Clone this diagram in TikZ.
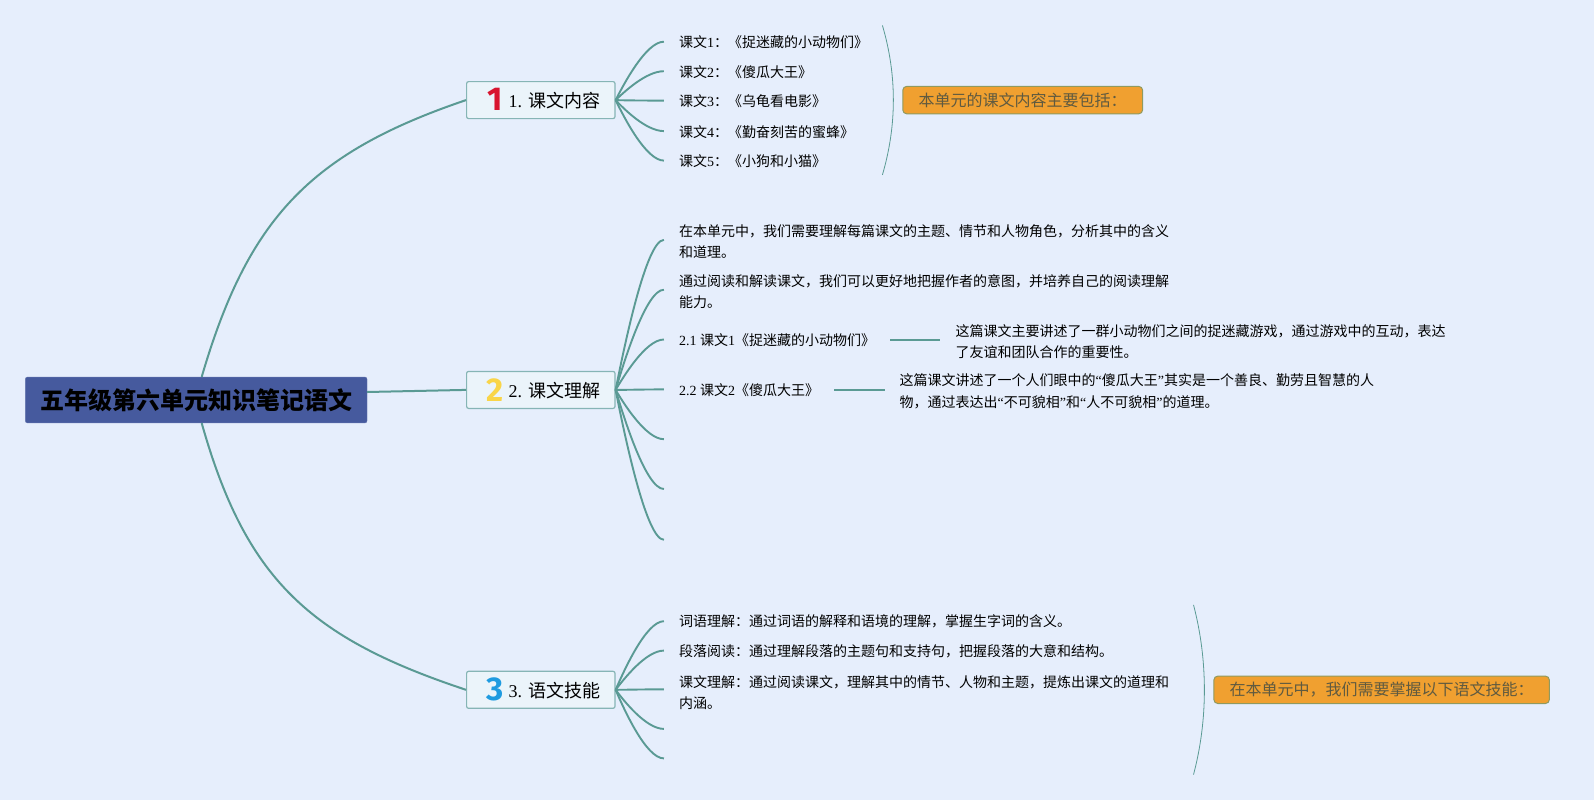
\documentclass[tikz,border=0pt]{standalone}
\usepackage{fontspec}
\setmainfont{Liberation Serif}
\newfontfamily\cjk{Noto Sans CJK SC}
\newfontfamily\iconfont{Fira Sans}
\newcommand{\zh}[1]{{\cjk #1}}
\usetikzlibrary{calc}
\definecolor{bgcol}{HTML}{E6EEFC}
\definecolor{rootcol}{HTML}{465A9E}
\definecolor{linecol}{HTML}{5A9A94}
\definecolor{boxcol}{HTML}{EBF4FA}
\definecolor{boxline}{HTML}{86B5B5}
\definecolor{sumcol}{HTML}{F0A030}
\definecolor{sumline}{HTML}{8F9A60}
\definecolor{sumtext}{HTML}{5F5A40}
\definecolor{iconred}{HTML}{D8152F}
\definecolor{iconyellow}{HTML}{F9D548}
\definecolor{iconblue}{HTML}{1F9BE0}
\tikzstyle{rootbox} = [draw=rootcol!85!white, fill=rootcol, rounded corners=2pt, minimum width=341.6pt, minimum height=45.8pt, inner sep=0pt, font=\fontsize{24}{28}\selectfont\cjk\bfseries]
\tikzstyle{topic} = [draw=boxline, fill=boxcol, line width=1.2pt, rounded corners=2pt, minimum width=148.4pt, minimum height=37pt, inner sep=0pt]
\tikzstyle{topictext} = [inner sep=0pt, font=\fontsize{18}{22}\selectfont]
\tikzstyle{icon} = [inner sep=0pt, font=\fontsize{33}{33}\selectfont\iconfont\bfseries]
\tikzstyle{leaf} = [anchor=west, yshift=-0.6pt, inner xsep=15pt, inner ysep=0pt, align=left, font=\fontsize{14}{21.3}\selectfont]
\tikzstyle{mleaf} = [leaf, yshift=-1.2pt]
\tikzstyle{summary} = [draw=sumline, fill=sumcol, line width=1pt, rounded corners=4pt, minimum height=27.5pt, inner sep=0pt, text=sumtext, font=\fontsize{16}{18}\selectfont\cjk]
\tikzstyle{mainline} = [draw=linecol, line width=2pt]
\tikzstyle{branch} = [draw=linecol, line width=1.9pt, to path={.. controls ($(\tikztostart)!0.27!(\tikztotarget)+(-5,0)$) and ($(\tikztotarget)+(-18,-0.6)$) .. ($(\tikztotarget)+(0,-0.6)$)}]
\tikzstyle{brace} = [draw=linecol, line width=0.8pt]

\begin{document}
\begin{tikzpicture}[x=1pt, y=-1pt]

        \fill [bgcol] (0,0) rectangle (1594,800);
        \useasboundingbox (0,0) rectangle (1594,800);

        % Root
        \node (root) [rootbox] at (196.2,400) {\raisebox{-1.5pt}{五年级第六单元知识笔记语文}};

        % Topics
        \node (b1) [topic] at (540.8,100.1) {};
        \node (b2) [topic] at (540.8,389.9) {};
        \node (b3) [topic] at (540.8,689.8) {};
        \node (i1) [icon, text=iconred] at (495,99.6) {1};
        \node (i2) [icon, text=iconyellow] at (495,390.4) {2};
        \node (i3) [icon, text=iconblue] at (495,689.3) {3};
        \node (t1) [topictext] at (554.3,100.9) {1. \zh{课文内容}};
        \node (t2) [topictext] at (554.3,390.7) {2. \zh{课文理解}};
        \node (t3) [topictext] at (554.3,690.6) {3. \zh{语文技能}};

        % Leaves of topic 1
        \node (l11) [leaf] at (663.9,41.7) {\zh{课文}1\zh{：《捉迷藏的小动物们》}};
        \node (l12) [leaf] at (663.9,71.2) {\zh{课文}2\zh{：《傻瓜大王》}};
        \node (l13) [leaf] at (663.9,100.6) {\zh{课文}3\zh{：《乌龟看电影》}};
        \node (l14) [leaf] at (663.9,131.1) {\zh{课文}4\zh{：《勤奋刻苦的蜜蜂》}};
        \node (l15) [leaf] at (663.9,160.6) {\zh{课文}5\zh{：《小狗和小猫》}};

        % Leaves of topic 2
        \node (l21) [mleaf] at (663.9,239.9) {\zh{在本单元中，我们需要理解每篇课文的主题、情节和人物角色，分析其中的含义}\\\zh{和道理。}};
        \node (l22) [mleaf] at (663.9,289.7) {\zh{通过阅读和解读课文，我们可以更好地把握作者的意图，并培养自己的阅读理解}\\\zh{能力。}};
        \node (l23) [leaf] at (663.9,339.5) {2.1 \zh{课文}1\zh{《捉迷藏的小动物们》}};
        \node (l24) [leaf] at (663.9,389.4) {2.2 \zh{课文}2\zh{《傻瓜大王》}};
        \node (l25) [leaf] at (663.9,439.2) {};
        \node (l26) [leaf] at (663.9,489) {};
        \node (l27) [leaf] at (663.9,539.8) {};
        \node (n23) [mleaf] at (940.4,339.5) {\zh{这篇课文主要讲述了一群小动物们之间的捉迷藏游戏，通过游戏中的互动，表达}\\\zh{了友谊和团队合作的重要性。}};
        \node (n24) [mleaf] at (884.5,389.4) {\zh{这篇课文讲述了一个人们眼中的}“\zh{傻瓜大王}”\zh{其实是一个善良、勤劳且智慧的人}\\\zh{物，通过表达出}“\zh{不可貌相}”\zh{和}“\zh{人不可貌相}”\zh{的道理。}};

        % Leaves of topic 3
        \node (l31) [leaf] at (663.9,621.2) {\zh{词语理解：通过词语的解释和语境的理解，掌握生字词的含义。}};
        \node (l32) [leaf] at (663.9,650.6) {\zh{段落阅读：通过理解段落的主题句和支持句，把握段落的大意和结构。}};
        \node (l33) [mleaf, yshift=-1.3pt] at (663.9,689.3) {\zh{课文理解：通过阅读课文，理解其中的情节、人物和主题，提炼出课文的道理和}\\\zh{内涵。}};
        \node (l34) [leaf] at (663.9,728.9) {};
        \node (l35) [leaf] at (663.9,758.4) {};

        % Summaries
        \node (s1) [summary, minimum width=239.9pt] at (1022.7,100.1) {本单元的课文内容主要包括：};
        \node (s3) [summary, minimum width=335.5pt] at (1381.6,689.8) {在本单元中，我们需要掌握以下语文技能：};

        % Brace ends
        \coordinate (c1a) at (882.4,25.4);
        \coordinate (c1b) at (882.4,174.9);
        \coordinate (c3a) at (1193.5,604.9);
        \coordinate (c3b) at (1193.5,774.6);

        % Connections from the root
        \draw [mainline] ([xshift=5.5pt]root.north) .. controls (248,218.6) and (310,153) .. (b1.west);
        \draw [mainline] ([yshift=8pt]root.east) -- (b2.west);
        \draw [mainline] ([xshift=5.5pt]root.south) .. controls (246,580) and (310,638) .. (b3.west);

        % Connections to the leaves
        \draw [branch] (b1.east) to (l11.west);
        \draw [branch] (b1.east) to (l12.west);
        \draw [branch] (b1.east) to (l13.west);
        \draw [branch] (b1.east) to (l14.west);
        \draw [branch] (b1.east) to (l15.west);

        \draw [branch] (b2.east) to ([yshift=1.2pt]l21.west);
        \draw [branch] (b2.east) to ([yshift=1.2pt]l22.west);
        \draw [branch] (b2.east) to (l23.west);
        \draw [branch] (b2.east) to (l24.west);
        \draw [branch] (b2.east) to (l25.west);
        \draw [branch] (b2.east) to (l26.west);
        \draw [branch] (b2.east) to (l27.west);

        \draw [branch] (b3.east) to (l31.west);
        \draw [branch] (b3.east) to (l32.west);
        \draw [branch] (b3.east) to ([yshift=2.5pt]l33.west);
        \draw [branch] (b3.east) to (l34.west);
        \draw [branch] (b3.east) to (l35.west);

        \draw [mainline] (l23.east) -- (l23.east -| n23.west);
        \draw [mainline] (l24.east) -- (l24.east -| n24.west);

        % Braces
        \draw [brace] (c1a) .. controls (897,75) and (897,125) .. (c1b);
        \draw [brace] (c3a) .. controls (1208,660) and (1208,720) .. (c3b);

    \end{tikzpicture}
\end{document}
